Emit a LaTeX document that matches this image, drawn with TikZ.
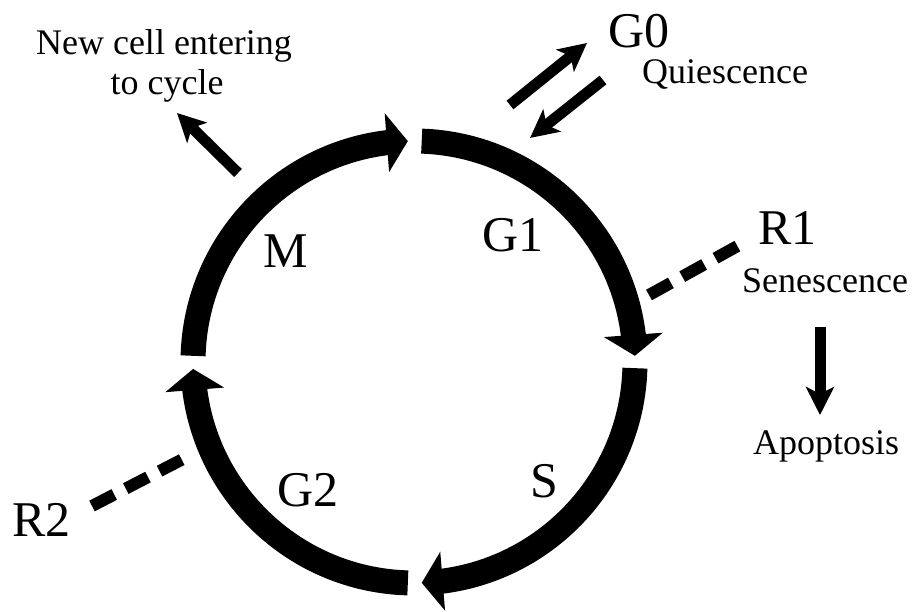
\documentclass[tikz,border=0pt]{standalone}
\usepackage{fontspec}
\setmainfont{Liberation Serif}
\usetikzlibrary{arrows.meta,bending}
\begin{document}
\begin{tikzpicture}[x=1pt,y=1pt,
  phase/.style={line width=25pt, line cap=butt, -{Triangle[width=58pt,length=21pt]}},
  bigtxt/.style={inner sep=0pt, anchor=base west, font=\fontsize{50}{58}\selectfont},
  smalltxt/.style={inner sep=0pt, anchor=base west, font=\fontsize{36}{42}\selectfont},
  thinarrow/.style={line width=11pt, -{Stealth[length=28pt,width=28pt,inset=7pt]}},
  rdash/.style={line width=12pt, line cap=butt, dash pattern=on 25pt off 13pt}]
\fill[white] (0,0) rectangle (916,612);
\useasboundingbox (0,0) rectangle (916,612);
\coordinate (C) at (414,250);
% cycle phases
\draw[phase] ([shift={(88:221)}]C) arc[start angle=88,end angle=1.6,radius=221];
\draw[phase] ([shift={(-1.6:221)}]C) arc[start angle=-1.6,end angle=-88,radius=221];
\draw[phase] ([shift={(268.4:221)}]C) arc[start angle=268.4,end angle=181.8,radius=221];
\draw[phase] ([shift={(178.4:221)}]C) arc[start angle=178.4,end angle=91.6,radius=221];
% labels
\node[bigtxt] (g1) at (482,360) {G1};
\node[bigtxt] (m) at (263,344) {M};
\node[bigtxt] (s) at (530,114) {S};
\node[bigtxt] (g2) at (277,105) {G2};
\node[bigtxt] (g0) at (608,564) {G0};
\node[bigtxt] (r1) at (758,367) {R1};
\node[bigtxt] (r2) at (12,75) {R2};
\node[smalltxt] (qui) at (642,528) {Quiescence};
\node[smalltxt] (sen) at (742,319) {Senescence};
\node[smalltxt] (apo) at (753,157) {Apoptosis};
\node[smalltxt, anchor=base] (new1) at (164,557) {New cell entering};
\node[smalltxt, anchor=base] (new2) at (167,517) {to cycle};
% connectors
\coordinate (newA) at (238,439);
\coordinate (newB) at (177,499);
\draw[thinarrow] (newA) -- (newB);
\coordinate (g0upA) at (510,507);
\coordinate (g0upB) at (587,569);
\draw[thinarrow] (g0upA) -- (g0upB);
\coordinate (g0dnA) at (603,532);
\coordinate (g0dnB) at (530,474);
\draw[thinarrow] (g0dnA) -- (g0dnB);
\coordinate (apoA) at (820,285);
\coordinate (apoB) at (820,197);
\draw[thinarrow] (apoA) -- (apoB);
\coordinate (r1A) at (649,317);
\coordinate (r1B) at (743,369);
\draw[rdash] (r1A) -- (r1B);
\coordinate (r2A) at (92,106);
\coordinate (r2B) at (185,154);
\draw[rdash] (r2A) -- (r2B);
\end{tikzpicture}
\end{document}
